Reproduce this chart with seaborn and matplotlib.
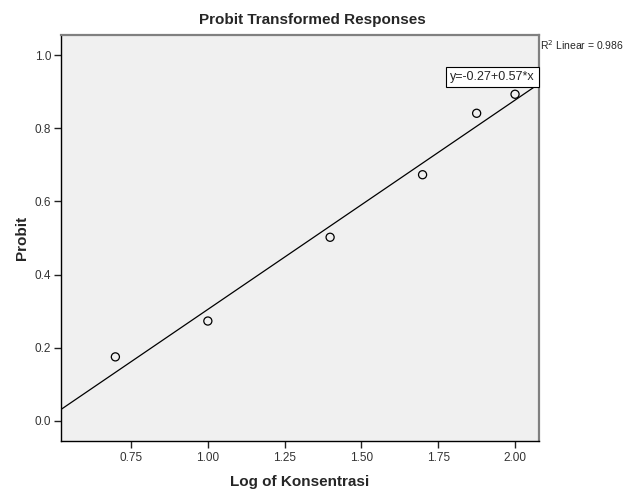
import numpy as np
import pandas as pd
import matplotlib
matplotlib.use("Agg")
import matplotlib.pyplot as plt
import seaborn as sns

log_konsentrasi = [0.699, 1.000, 1.398, 1.699, 1.875, 2.000]
probit = [0.175, 0.273, 0.502, 0.673, 0.841, 0.893]
x_ticks = [0.75, 1.00, 1.25, 1.50, 1.75, 2.00]
y_ticks = [0.0, 0.2, 0.4, 0.6, 0.8, 1.0]
eq_text = "y=-0.27+0.57*x"
r2_text = "R$^2$ Linear = 0.986"

df = pd.DataFrame({"x": log_konsentrasi, "y": probit})

sns.set_style("white")
plt.rcParams['font.family'] = ['Liberation Sans', 'DejaVu Sans']

fig = plt.figure(figsize=(6.26, 5.01), dpi=100)
ax = fig.add_axes([61/626, 1-441/501, (539-61)/626, (441-35)/501])
ax.set_facecolor("#F0F0F0")

xlim = (0.522, 2.078)
ylim = (-0.055, 1.055)

slope, intercept = np.polyfit(df["x"], df["y"], 1)
xs = np.array(xlim)
sns.lineplot(x=xs, y=intercept + slope * xs, ax=ax, color="black", linewidth=0.9)
sns.scatterplot(data=df, x="x", y="y", ax=ax, marker="o", s=34,
                facecolor="none", edgecolor="black", linewidth=0.9, zorder=3)

ax.set_xlim(*xlim)
ax.set_ylim(*ylim)
ax.set_xticks(x_ticks)
ax.set_xticklabels([f"{v:.2f}" for v in x_ticks])
ax.set_yticks(y_ticks)
ax.set_yticklabels([f"{v:.1f}" for v in y_ticks])
ax.tick_params(axis="both", bottom=True, left=True, length=5, width=1,
               color="#222222", labelsize=8.5, labelcolor="#333333",
               direction="out", pad=2)
ax.tick_params(axis="x", pad=3)

for s in ["left", "bottom"]:
    ax.spines[s].set_color("black")
    ax.spines[s].set_linewidth(1.0)
for s in ["top", "right"]:
    ax.spines[s].set_color("#808080")
    ax.spines[s].set_linewidth(1.6)

ax.set_xlabel("Log of Konsentrasi", fontsize=11, fontweight="bold", labelpad=8)
ax.set_ylabel("Probit", fontsize=11, fontweight="bold", labelpad=4)
fig.text(312/626, 1-20/501, "Probit Transformed Responses", fontsize=11,
         fontweight="bold", ha="center", va="center")

ax.text(0.991, 0.8966, eq_text, transform=ax.transAxes, ha="right", va="center",
        fontsize=9, bbox=dict(boxstyle="square,pad=0.35", facecolor="white",
                              edgecolor="black", linewidth=0.8))
fig.text(540/626, 1-45/501, r2_text, fontsize=7.5, ha="left", va="center")

fig.savefig("out.png", dpi=100)
